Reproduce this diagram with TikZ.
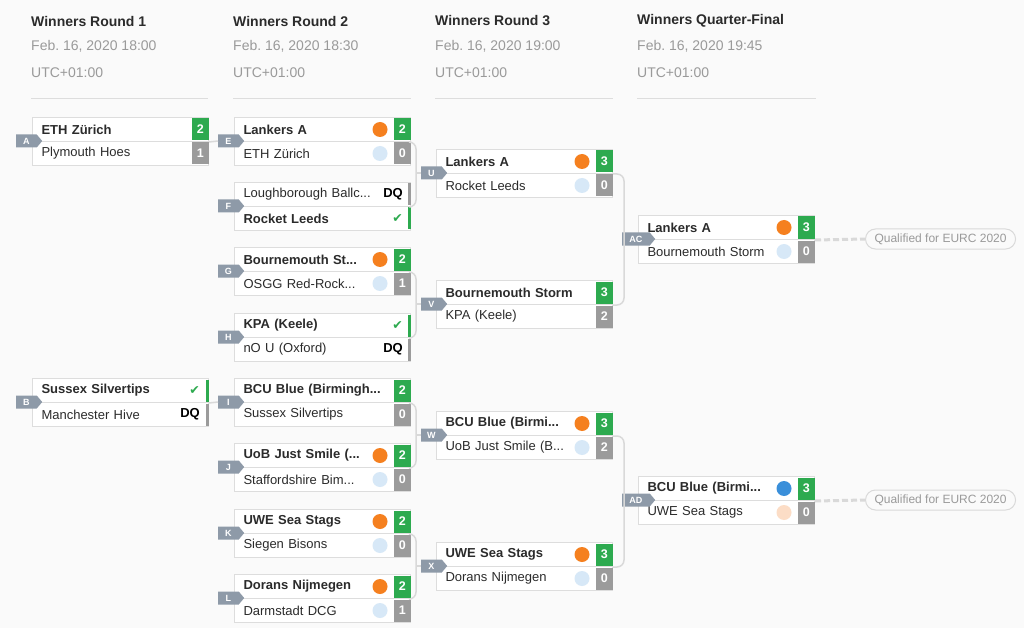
\documentclass[tikz,border=0pt]{standalone}
\usepackage{fontspec}
\setmainfont{Liberation Sans}
\newfontfamily\symfont{DejaVu Sans}
\usepackage{tikz}
\usetikzlibrary{positioning,shapes.symbols}
\usepackage{xcolor}
\frenchspacing
\definecolor{pagebg}{HTML}{FAFAFA}
\definecolor{inkdark}{HTML}{2B2B2B}
\definecolor{inklight}{HTML}{9A9A9A}
\definecolor{rulegray}{HTML}{DDDDDD}
\definecolor{boxline}{HTML}{DDDDDD}
\definecolor{linkgray}{HTML}{D9D9D9}
\definecolor{wingreen}{HTML}{2DAA4F}
\definecolor{losegray}{HTML}{9B9B9B}
\definecolor{tagslate}{HTML}{8E9AA8}
\definecolor{dotorange}{HTML}{F5801F}
\definecolor{dotpale}{HTML}{D7E8F7}
\definecolor{dotblue}{HTML}{3A8FDA}
\definecolor{dotpeach}{HTML}{FCDDC6}
\begin{document}
\begin{tikzpicture}[x=1pt, y=-1pt,
  every node/.style={font=\fontsize{13}{15}\selectfont, text=inkdark},
  headtitle/.style={anchor=west, inner xsep=0pt, font=\fontsize{14}{16}\selectfont\bfseries},
  headsub/.style={anchor=west, inner xsep=0pt, text=inklight, font=\fontsize{14}{16}\selectfont},
  headrule/.style={draw=rulegray, line width=1pt},
  teamrow/.style={draw=boxline, line width=1pt, fill=white, anchor=north west, minimum height=24pt, text width=158pt, inner xsep=9pt, inner ysep=0pt, align=left},
  winner/.style={teamrow, font=\fontsize{13}{15}\selectfont\bfseries},
  score/.style={anchor=east, minimum width=17pt, minimum height=22pt, inner sep=0pt, text=white, font=\fontsize{12.5}{14}\selectfont\bfseries},
  scorewin/.style={score, fill=wingreen},
  scorelose/.style={score, fill=losegray},
  teamdot/.style={circle, minimum size=15pt, inner sep=0pt},
  dqbar/.style={anchor=east, minimum width=3pt, minimum height=22pt, inner sep=0pt},
  dqtext/.style={anchor=east, inner sep=0pt, text=black, font=\fontsize{13}{15}\selectfont\bfseries},
  oktick/.style={anchor=east, inner sep=0pt, text=wingreen, font=\symfont\fontsize{12.5}{12.5}\selectfont},
  matchtag/.style={signal, signal to=east, signal pointer angle=100, fill=tagslate, text=white, anchor=west, minimum height=13pt, minimum width=26pt, inner xsep=4pt, inner ysep=2.5pt, font=\fontsize{9}{9}\selectfont\bfseries},
  link/.style={draw=linkgray, line width=1.5pt},
  qualpill/.style={draw=linkgray, line width=1pt, rounded corners=10pt, text=inklight, anchor=west, minimum height=20pt, inner xsep=9pt, inner ysep=0pt, font=\fontsize{12}{14}\selectfont},
  qualdash/.style={draw=linkgray, line width=3pt, dash pattern=on 6pt off 3pt}]
\fill[pagebg] (0,0) rectangle (1024,628);
\useasboundingbox (0,0) rectangle (1024,628);
\node[headtitle] (head1) at (31,21) {Winners Round 1};
\node[headsub] (date1) at (31,46) {Feb. 16, 2020 18:00};
\node[headsub] (zone1) at (31,73) {UTC+01:00};
\draw[headrule] (31,99) -- (208,99);
\node[headtitle] (head2) at (233,21) {Winners Round 2};
\node[headsub] (date2) at (233,46) {Feb. 16, 2020 18:30};
\node[headsub] (zone2) at (233,73) {UTC+01:00};
\draw[headrule] (233,99) -- (411,99);
\node[headtitle] (head3) at (435,21) {Winners Round 3};
\node[headsub] (date3) at (435,46) {Feb. 16, 2020 19:00};
\node[headsub] (zone3) at (435,73) {UTC+01:00};
\draw[headrule] (435,99) -- (613,99);
\node[headtitle] (head4) at (637,21) {Winners Quarter-Final};
\node[headsub] (date4) at (637,46) {Feb. 16, 2020 19:45};
\node[headsub] (zone4) at (637,73) {UTC+01:00};
\draw[headrule] (637,99) -- (816,99);
% round 1
\node[winner] (rowA1) at (32,117) {ETH Zürich};
\node[teamrow] (rowA2) at (32,141) {Plymouth Hoes};
\node[scorewin] (scoreA1) at (rowA1.east) {2};
\node[scorelose] (scoreA2) at (rowA2.east) {1};
\node[matchtag] (tagA) at (16,141) {A};
\node[winner] (rowB1) at (32,378) {Sussex Silvertips};
\node[teamrow] (rowB2) at (32,402) {Manchester Hive};
\node[dqbar, fill=wingreen] (barB1) at (rowB1.east) {};
\node[oktick] (okB1) at ([xshift=-9pt]rowB1.east) {✔};
\node[dqbar, fill=losegray] (barB2) at (rowB2.east) {};
\node[dqtext] (dqB2) at ([xshift=-9pt]rowB2.east) {DQ};
\node[matchtag] (tagB) at (16,402) {B};
% round 2
\node[winner] (rowE1) at (234,117) {Lankers A};
\node[teamrow] (rowE2) at (234,141) {ETH Zürich};
\node[scorewin] (scoreE1) at (rowE1.east) {2};
\node[scorelose] (scoreE2) at (rowE2.east) {0};
\node[teamdot, fill=dotorange] (dotE1) at ([xshift=-31pt]rowE1.east) {};
\node[teamdot, fill=dotpale] (dotE2) at ([xshift=-31pt]rowE2.east) {};
\node[matchtag] (tagE) at (218,141) {E};
\node[teamrow] (rowF1) at (234,182) {Loughborough Ballc...};
\node[winner] (rowF2) at (234,206) {Rocket Leeds};
\node[dqbar, fill=losegray] (barF1) at (rowF1.east) {};
\node[dqtext] (dqF1) at ([xshift=-8pt]rowF1.east) {DQ};
\node[dqbar, fill=wingreen] (barF2) at (rowF2.east) {};
\node[oktick] (okF2) at ([xshift=-8pt]rowF2.east) {✔};
\node[matchtag] (tagF) at (218,206) {F};
\node[winner] (rowG1) at (234,247) {Bournemouth St...};
\node[teamrow] (rowG2) at (234,271) {OSGG Red-Rock...};
\node[scorewin] (scoreG1) at (rowG1.east) {2};
\node[scorelose] (scoreG2) at (rowG2.east) {1};
\node[teamdot, fill=dotorange] (dotG1) at ([xshift=-31pt]rowG1.east) {};
\node[teamdot, fill=dotpale] (dotG2) at ([xshift=-31pt]rowG2.east) {};
\node[matchtag] (tagG) at (218,271) {G};
\node[winner] (rowH1) at (234,313) {KPA (Keele)};
\node[teamrow] (rowH2) at (234,337) {nO U (Oxford)};
\node[dqbar, fill=wingreen] (barH1) at (rowH1.east) {};
\node[oktick] (okH1) at ([xshift=-8pt]rowH1.east) {✔};
\node[dqbar, fill=losegray] (barH2) at (rowH2.east) {};
\node[dqtext] (dqH2) at ([xshift=-8pt]rowH2.east) {DQ};
\node[matchtag] (tagH) at (218,337) {H};
\node[winner] (rowI1) at (234,378) {BCU Blue (Birmingh...};
\node[teamrow] (rowI2) at (234,402) {Sussex Silvertips};
\node[scorewin] (scoreI1) at (rowI1.east) {2};
\node[scorelose] (scoreI2) at (rowI2.east) {0};
\node[matchtag] (tagI) at (218,402) {I};
\node[winner] (rowJ1) at (234,443) {UoB Just Smile (...};
\node[teamrow] (rowJ2) at (234,467) {Staffordshire Bim...};
\node[scorewin] (scoreJ1) at (rowJ1.east) {2};
\node[scorelose] (scoreJ2) at (rowJ2.east) {0};
\node[teamdot, fill=dotorange] (dotJ1) at ([xshift=-31pt]rowJ1.east) {};
\node[teamdot, fill=dotpale] (dotJ2) at ([xshift=-31pt]rowJ2.east) {};
\node[matchtag] (tagJ) at (218,467) {J};
\node[winner] (rowK1) at (234,509) {UWE Sea Stags};
\node[teamrow] (rowK2) at (234,533) {Siegen Bisons};
\node[scorewin] (scoreK1) at (rowK1.east) {2};
\node[scorelose] (scoreK2) at (rowK2.east) {0};
\node[teamdot, fill=dotorange] (dotK1) at ([xshift=-31pt]rowK1.east) {};
\node[teamdot, fill=dotpale] (dotK2) at ([xshift=-31pt]rowK2.east) {};
\node[matchtag] (tagK) at (218,533) {K};
\node[winner] (rowL1) at (234,574) {Dorans Nijmegen};
\node[teamrow] (rowL2) at (234,598) {Darmstadt DCG};
\node[scorewin] (scoreL1) at (rowL1.east) {2};
\node[scorelose] (scoreL2) at (rowL2.east) {1};
\node[teamdot, fill=dotorange] (dotL1) at ([xshift=-31pt]rowL1.east) {};
\node[teamdot, fill=dotpale] (dotL2) at ([xshift=-31pt]rowL2.east) {};
\node[matchtag] (tagL) at (218,598) {L};
% round 3
\node[winner] (rowU1) at (436,149) {Lankers A};
\node[teamrow] (rowU2) at (436,173) {Rocket Leeds};
\node[scorewin] (scoreU1) at (rowU1.east) {3};
\node[scorelose] (scoreU2) at (rowU2.east) {0};
\node[teamdot, fill=dotorange] (dotU1) at ([xshift=-31pt]rowU1.east) {};
\node[teamdot, fill=dotpale] (dotU2) at ([xshift=-31pt]rowU2.east) {};
\node[matchtag] (tagU) at (421,173) {U};
\node[winner] (rowV1) at (436,280) {Bournemouth Storm};
\node[teamrow] (rowV2) at (436,304) {KPA (Keele)};
\node[scorewin] (scoreV1) at (rowV1.east) {3};
\node[scorelose] (scoreV2) at (rowV2.east) {2};
\node[matchtag] (tagV) at (421,304) {V};
\node[winner] (rowW1) at (436,411) {BCU Blue (Birmi...};
\node[teamrow] (rowW2) at (436,435) {UoB Just Smile (B...};
\node[scorewin] (scoreW1) at (rowW1.east) {3};
\node[scorelose] (scoreW2) at (rowW2.east) {2};
\node[teamdot, fill=dotorange] (dotW1) at ([xshift=-31pt]rowW1.east) {};
\node[teamdot, fill=dotpale] (dotW2) at ([xshift=-31pt]rowW2.east) {};
\node[matchtag] (tagW) at (421,435) {W};
\node[winner] (rowX1) at (436,542) {UWE Sea Stags};
\node[teamrow] (rowX2) at (436,566) {Dorans Nijmegen};
\node[scorewin] (scoreX1) at (rowX1.east) {3};
\node[scorelose] (scoreX2) at (rowX2.east) {0};
\node[teamdot, fill=dotorange] (dotX1) at ([xshift=-31pt]rowX1.east) {};
\node[teamdot, fill=dotpale] (dotX2) at ([xshift=-31pt]rowX2.east) {};
\node[matchtag] (tagX) at (421,566) {X};
% quarter-final
\node[winner] (rowAC1) at (638,215) {Lankers A};
\node[teamrow] (rowAC2) at (638,239) {Bournemouth Storm};
\node[scorewin] (scoreAC1) at (rowAC1.east) {3};
\node[scorelose] (scoreAC2) at (rowAC2.east) {0};
\node[teamdot, fill=dotorange] (dotAC1) at ([xshift=-31pt]rowAC1.east) {};
\node[teamdot, fill=dotpale] (dotAC2) at ([xshift=-31pt]rowAC2.east) {};
\node[matchtag, minimum width=33pt] (tagAC) at (622,239) {AC};
\node[winner] (rowAD1) at (638,476) {BCU Blue (Birmi...};
\node[teamrow] (rowAD2) at (638,500) {UWE Sea Stags};
\node[scorewin] (scoreAD1) at (rowAD1.east) {3};
\node[scorelose] (scoreAD2) at (rowAD2.east) {0};
\node[teamdot, fill=dotblue] (dotAD1) at ([xshift=-31pt]rowAD1.east) {};
\node[teamdot, fill=dotpeach] (dotAD2) at ([xshift=-31pt]rowAD2.east) {};
\node[matchtag, minimum width=33pt] (tagAD) at (622,500) {AD};
\node[qualpill] (qualAC) at (865,239) {Qualified for EURC 2020};
\node[qualpill] (qualAD) at (865,500) {Qualified for EURC 2020};
% connectors
\draw[link] (rowA1.south east) -- (tagE.west);
\draw[link] (rowB1.south east) -- (tagI.west);
\draw[link, rounded corners=7pt] (rowE1.south east) -| ([xshift=-5pt]tagU.west) |- (rowF1.south east);
\draw[link] ([xshift=-5pt]tagU.west) -- (tagU.west);
\draw[link, rounded corners=7pt] (rowG1.south east) -| ([xshift=-5pt]tagV.west) |- (rowH1.south east);
\draw[link] ([xshift=-5pt]tagV.west) -- (tagV.west);
\draw[link, rounded corners=7pt] (rowI1.south east) -| ([xshift=-5pt]tagW.west) |- (rowJ1.south east);
\draw[link] ([xshift=-5pt]tagW.west) -- (tagW.west);
\draw[link, rounded corners=7pt] (rowK1.south east) -| ([xshift=-5pt]tagX.west) |- (rowL1.south east);
\draw[link] ([xshift=-5pt]tagX.west) -- (tagX.west);
\draw[link, rounded corners=7pt] (rowU1.south east) -| ([xshift=2pt]tagAC.west) |- (rowV1.south east);
\draw[link, rounded corners=7pt] (rowW1.south east) -| ([xshift=2pt]tagAD.west) |- (rowX1.south east);
\draw[qualdash] (rowAC1.south east) -- (qualAC.west);
\draw[qualdash] (rowAD1.south east) -- (qualAD.west);
\end{tikzpicture}
\end{document}
